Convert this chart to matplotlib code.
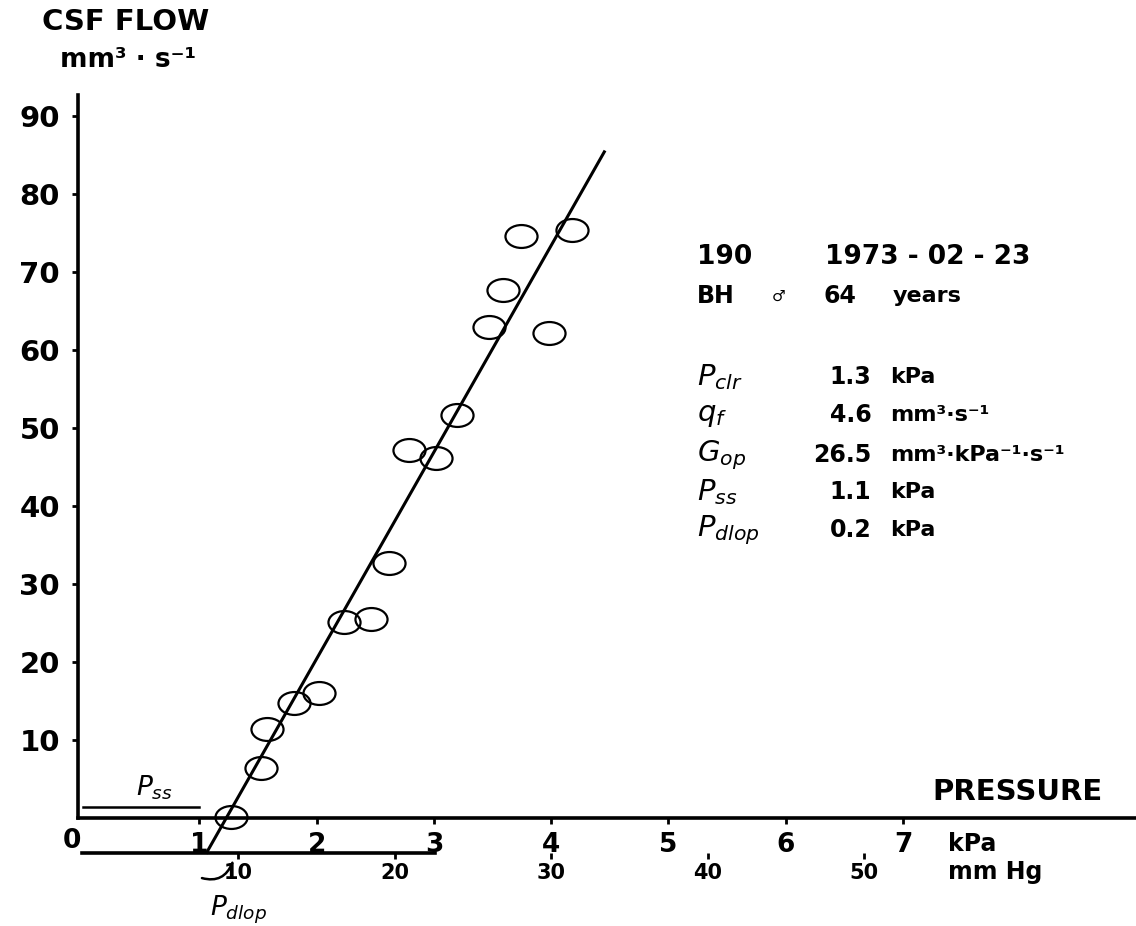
#!/usr/bin/env python3
"""CSF flow vs pressure (infusion test) - recreation"""

import matplotlib
matplotlib.use('Agg')
import matplotlib.pyplot as plt
from matplotlib.markers import MarkerStyle
from matplotlib.transforms import Affine2D

plt.rcParams['font.family'] = ['DejaVu Sans']
plt.rcParams['font.weight'] = 'normal'
plt.rcParams['mathtext.fontset'] = 'dejavusans'

# data
pressure_kpa = [1.27, 1.53, 1.58, 1.81, 2.02, 2.23, 2.46, 2.62,
                2.79, 3.02, 3.20, 3.47, 3.59, 3.74, 3.98, 4.18]
csf_flow = [0.1, 6.4, 11.4, 14.7, 16.0, 25.1, 25.5, 32.7,
            47.2, 46.2, 51.7, 62.9, 67.7, 74.6, 62.2, 75.4]

# fitted line: conductance (slope) and pressure at zero flow
fit_slope = 26.5
fit_x0 = 1.23
fit_flow = [-4.4, 85.4]

y_ticks = [10, 20, 30, 40, 50, 60, 70, 80, 90]
kpa_ticks = [1, 2, 3, 4, 5, 6, 7]
mmhg_ticks = [10, 20, 30, 40, 50]
KPA_TO_MMHG = 7.50062

pss_value = 1.4          # flow level of the P_ss bar
pss_range = [0.01, 1.0]

info_rows = [
    (r'$P_{clr}$', '1.3', 'kPa'),
    (r'$q_{f}$', '4.6', 'mm³·s⁻¹'),
    (r'$G_{op}$', '26.5', 'mm³·kPa⁻¹·s⁻¹'),
    (r'$P_{ss}$', '1.1', 'kPa'),
    (r'$P_{dlop}$', '0.2', 'kPa'),
]

W, H = 1136, 926
fig = plt.figure(figsize=(W / 100, H / 100), dpi=100)
fig.patch.set_facecolor('white')
ax = fig.add_axes([78 / W, (H - 818) / H, (W - 78) / W, (818 - 95) / H])
ax.set_xlim(-4 / 117.3, (W - 82) / 117.3)
ax.set_ylim(0, (818 - 95) / 7.8)

# spines
for s in ['top', 'right']:
    ax.spines[s].set_visible(False)
ax.spines['left'].set_linewidth(2.6)
ax.spines['bottom'].set_linewidth(2.6)

ax.set_yticks(y_ticks)
ax.set_yticklabels([str(v) for v in y_ticks], fontweight='bold')
ax.tick_params(axis='y', direction='out', length=4, width=2, pad=9, labelsize=21)
ax.set_xticks(kpa_ticks)
ax.set_xticklabels([str(v) for v in kpa_ticks], fontweight='bold')
ax.tick_params(axis='x', direction='out', length=4, width=2, pad=6, labelsize=19)
ax.text(-0.085, -2.9, '0', ha='center', va='center', fontsize=19, fontweight='bold')

# mm Hg scale
secax = ax.secondary_xaxis(-35 / 723, functions=(lambda p: p * KPA_TO_MMHG,
                                                  lambda m: m / KPA_TO_MMHG))
secax.set_xticks(mmhg_ticks)
secax.set_xticklabels([str(v) for v in mmhg_ticks], fontweight='bold')
secax.tick_params(axis='x', direction='out', length=4, width=2, pad=3, labelsize=15)
secax.spines['bottom'].set_linewidth(2.6)
secax.spines['bottom'].set_bounds(0, 3.01 * KPA_TO_MMHG)

# data points and fitted line
ellipse = MarkerStyle('o', transform=Affine2D().scale(1.4, 1.0))
ax.plot(pressure_kpa, csf_flow, linestyle='none', marker=ellipse, ms=16.5,
        mfc='none', mec='black', mew=1.6, clip_on=False)
fit_x = [fit_x0 + f / fit_slope for f in fit_flow]
ax.plot(fit_x, fit_flow, color='black', linewidth=2.2, clip_on=False)

# P_ss bar
ax.plot(pss_range, [pss_value, pss_value], color='black', linewidth=1.8)
ax.text(0.62, 3.9, r'$P_{ss}$', ha='center', va='center', fontsize=19)

# P_dlop hook and label
ax.annotate('', xy=(1.29, -5.4), xytext=(1.0, -7.6), annotation_clip=False,
            arrowprops=dict(arrowstyle='-', color='black', lw=1.8,
                            connectionstyle='arc3,rad=0.5'))
ax.text(1.33, -11.8, r'$P_{dlop}$', ha='center', va='center', fontsize=19)

# axis titles
bold = dict(fontweight='bold')
fig.text(126 / W, 1 - 22 / H, 'CSF FLOW', ha='center', va='center', fontsize=21, **bold)
fig.text(128 / W, 1 - 60 / H, 'mm³ · s⁻¹', ha='center', va='center', fontsize=19, **bold)
ax.text(7.25, 3.3, 'PRESSURE', ha='left', va='center', fontsize=21, **bold)
ax.text(7.38, -3.3, 'kPa', ha='left', va='center', fontsize=17, **bold)
ax.text(7.38, -6.9, 'mm Hg', ha='left', va='center', fontsize=17, **bold)

# patient info block
ax.text(5.24, 71.9, '190', ha='left', va='center', fontsize=19, **bold)
ax.text(6.33, 71.9, '1973 - 02 - 23', ha='left', va='center', fontsize=19, **bold)
ax.text(5.24, 66.9, 'BH', ha='left', va='center', fontsize=17, **bold)
ax.text(5.88, 66.9, '♂', ha='left', va='center', fontsize=11)
ax.text(6.32, 66.9, '64', ha='left', va='center', fontsize=17, **bold)
ax.text(6.91, 66.9, 'years', ha='left', va='center', fontsize=16, **bold)

row_y = [56.5, 51.7, 46.5, 41.8, 36.9]
for (sym, val, unit), yy in zip(info_rows, row_y):
    ax.text(5.24, yy, sym, ha='left', va='center', fontsize=21)
    ax.text(6.73, yy, val, ha='right', va='center', fontsize=17, **bold)
    ax.text(6.89, yy, unit, ha='left', va='center', fontsize=16, **bold)

fig.savefig('out.png', dpi=100, facecolor='white')
